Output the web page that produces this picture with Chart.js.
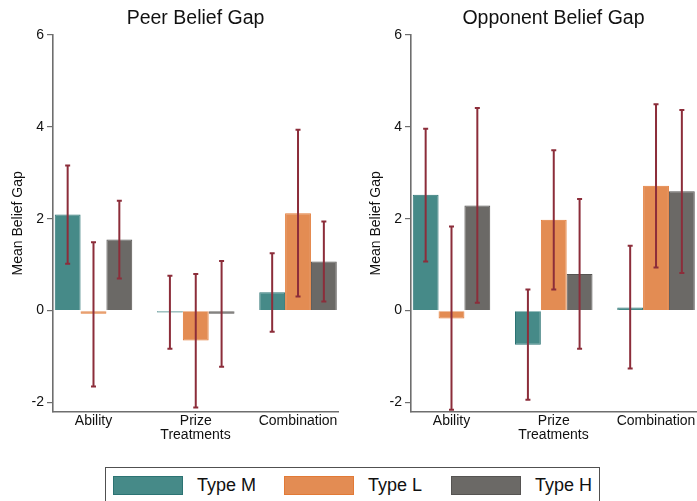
<!DOCTYPE html>
<html>
<head>
<meta charset="utf-8">
<script src="https://cdn.jsdelivr.net/npm/chart.js@4.4.1/dist/chart.umd.min.js"></script>
<style>
  html, body { margin: 0; padding: 0; background: #fff; overflow: hidden; }
  body { width: 697px; height: 501px; position: relative; font-family: "Liberation Sans", Arial, sans-serif; }
  .panel { position: absolute; top: 0; width: 345px; height: 445px; }
  #legend { position: absolute; left: 105px; top: 467px; width: 495px; height: 50px;
            border: 1px solid #505050; box-sizing: border-box; }
  .item { position: absolute; top: 7px; height: 20px; display: flex; align-items: center; }
  .swatch { width: 70px; height: 19px; box-sizing: border-box; border: 1px solid; }
  .lbl { margin-left: 14px; font-size: 18px; color: #111; line-height: 20px; }
</style>
</head>
<body>
<div class="panel" style="left:0px"><canvas id="peer" width="345" height="445"></canvas></div>
<div class="panel" style="left:358px"><canvas id="opp" width="345" height="445"></canvas></div>
<div id="legend"></div>
<script>
// Treatment categories and participant types
const categories = ['Ability', 'Prize', 'Combination'];
const typeNames = ['Type M', 'Type L', 'Type H'];

// Peer belief gap: means and 95% interval bounds per type
const peerM = [2.09, -0.04, 0.40];
const peerL = [-0.07, -0.65, 2.12];
const peerH = [1.55, -0.07, 1.07];
const peerLowM = [1.02, -0.83, -0.46];
const peerLowL = [-1.65, -2.11, 0.31];
const peerLowH = [0.70, -1.22, 0.20];
const peerHighM = [3.16, 0.76, 1.25];
const peerHighL = [1.49, 0.80, 3.94];
const peerHighH = [2.39, 1.08, 1.94];

// Opponent belief gap
const oppM = [2.52, -0.74, 0.07];
const oppL = [-0.17, 1.98, 2.72];
const oppH = [2.29, 0.80, 2.60];
const oppLowM = [1.07, -1.94, -1.26];
const oppLowL = [-2.16, 0.46, 0.94];
const oppLowH = [0.17, -0.83, 0.82];
const oppHighM = [3.96, 0.46, 1.41];
const oppHighL = [1.83, 3.49, 4.49];
const oppHighH = [4.41, 2.43, 4.37];

const yTicks = [-2, 0, 2, 4, 6];

const fills = ['#468a88', '#e38c53', '#6b6966'];
const borders = ['#2c7373', '#e27a36', '#565452'];
const errColor = '#8c2d3a';
const axisColor = '#6e6e6e';
const FONT = '"Liberation Sans", Arial, sans-serif';

// legend
const legend = document.getElementById('legend');
const legendX = [7, 178, 345];
typeNames.forEach((n, i) => {
  const d = document.createElement('div');
  d.className = 'item';
  d.style.left = legendX[i] + 'px';
  d.innerHTML = '<div class="swatch" style="background:' + fills[i] + ';border-color:' + borders[i] + '"></div><span class="lbl">' + n + '</span>';
  legend.appendChild(d);
});

// draws interval whiskers on top of the bars
const errorBars = {
  id: 'errorBars',
  afterDatasetsDraw(chart) {
    const ctx = chart.ctx;
    const y = chart.scales.y;
    ctx.save();
    ctx.strokeStyle = errColor;
    ctx.lineWidth = 2;
    chart.data.datasets.forEach((ds, di) => {
      const meta = chart.getDatasetMeta(di);
      meta.data.forEach((bar, i) => {
        const x = bar.x;
        const yl = y.getPixelForValue(ds.low[i]);
        const yh = y.getPixelForValue(ds.high[i]);
        ctx.beginPath();
        ctx.moveTo(x, yl); ctx.lineTo(x, yh);
        ctx.moveTo(x - 2.5, yl); ctx.lineTo(x + 2.5, yl);
        ctx.moveTo(x - 2.5, yh); ctx.lineTo(x + 2.5, yh);
        ctx.stroke();
      });
    });
    ctx.restore();
  }
};

function makeDatasets(means, lows, highs) {
  return means.map((vals, s) => ({
    label: typeNames[s],
    data: vals.map((v, i) => ({ x: i, y: v })),
    low: lows[s],
    high: highs[s],
    backgroundColor: fills[s],
    borderColor: borders[s],
    borderWidth: 1,
    categoryPercentage: 0.758,
    barPercentage: 1.0
  }));
}

function makeChart(id, title, means, lows, highs) {
  return new Chart(document.getElementById(id), {
    type: 'bar',
    data: { datasets: makeDatasets(means, lows, highs) },
    options: {
      responsive: false,
      animation: false,
      layout: { padding: { left: 0, right: 7, top: 0, bottom: 0 } },
      plugins: {
        legend: { display: false },
        tooltip: { enabled: false },
        title: {
          display: true, text: title, fullSize: false, color: '#111',
          font: { family: FONT, size: 19.5, weight: 'normal' },
          padding: { top: 6.7, bottom: 4.9 }
        }
      },
      scales: {
        x: {
          type: 'linear', min: -0.396, max: 2.391, offset: false,
          afterBuildTicks(s) { s.ticks = categories.map((c, i) => ({ value: i })); },
          afterFit(s) { s.height = 33.3; },
          ticks: {
            color: '#111', padding: 1, autoSkip: false, maxRotation: 0,
            font: { family: FONT, size: 14 },
            callback: (v) => categories[v]
          },
          grid: { display: false, drawTicks: false },
          border: { display: true, color: axisColor, width: 1.6 },
          title: {
            display: true, text: 'Treatments', color: '#111',
            font: { family: FONT, size: 14 }, padding: { top: 0, bottom: 1.6 }
          }
        },
        y: {
          min: -2.2, max: 6,
          afterBuildTicks(s) { s.ticks = yTicks.map(v => ({ value: v })); },
          afterFit(s) { s.width = 53; },
          ticks: { color: '#111', padding: 3, font: { family: FONT, size: 14 } },
          grid: { drawOnChartArea: false, drawTicks: true, tickLength: 6, color: axisColor, lineWidth: 1.2 },
          border: { display: true, color: axisColor, width: 1.6 },
          title: {
            display: true, text: 'Mean Belief Gap', color: '#111',
            font: { family: FONT, size: 14 }, padding: { top: 9.6, bottom: 0 }
          }
        }
      }
    },
    plugins: [errorBars]
  });
}

makeChart('peer', 'Peer Belief Gap',
  [peerM, peerL, peerH], [peerLowM, peerLowL, peerLowH], [peerHighM, peerHighL, peerHighH]);
makeChart('opp', 'Opponent Belief Gap',
  [oppM, oppL, oppH], [oppLowM, oppLowL, oppLowH], [oppHighM, oppHighL, oppHighH]);
</script>
</body>
</html>
